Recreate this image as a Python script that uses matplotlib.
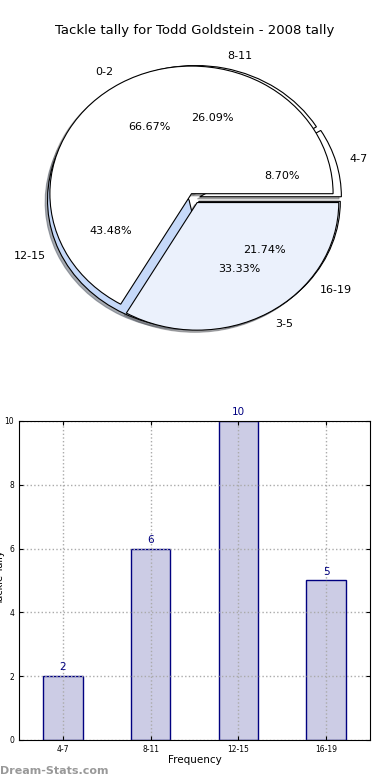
import matplotlib
matplotlib.use("Agg")
import matplotlib.pyplot as plt

tittel = "Tackle tally for Todd Goldstein - 2008 tally"

# indre pai (to grupper)
pai1_navn = ["0-2", "3-5"]
pai1_verdi = [2, 1]
pai1_farger = ["white", "#ebf1fc"]

# ytre pai / søylene
grupper = ["4-7", "8-11", "12-15", "16-19"]
antall = [2, 6, 10, 5]
pai2_farger = ["white", "white", "#c6d9f9", "#ebf1fc"]

fig = plt.figure(figsize=(3.9, 7.8), dpi=100)

# --- pai ---
ax1 = fig.add_axes([0.0444, 0.5415, 0.9077, 0.409])
kant = {"edgecolor": "black", "linewidth": 0.8}
skygge = {"ox": -0.012, "oy": -0.012, "shade": 0.6}
ax1.pie(antall, labels=grupper, colors=pai2_farger, autopct="%.2f%%",
        explode=[0.04] * len(antall), shadow=skygge, wedgeprops=kant,
        textprops={"fontsize": 8})
ax1.pie(pai1_verdi, labels=pai1_navn, colors=pai1_farger, autopct="%.2f%%",
        explode=[0.04] * len(pai1_verdi), shadow=skygge, wedgeprops=kant,
        textprops={"fontsize": 8})
ax1.set_aspect("auto")
ax1.set_xlim(-1.25, 1.25)
ax1.set_ylim(-1.25, 1.25)
fig.text(0.5, 0.961, tittel, ha="center", va="center", fontsize=9.5)

# --- søyler ---
ax2 = fig.add_axes([0.0487, 0.0513, 0.9, 0.409])
x = range(len(grupper))
ax2.bar(x, antall, width=0.45, color="#ccccE5", edgecolor="navy", linewidth=1, zorder=1)
for i, v in zip(x, antall):
    ax2.text(i, v + 0.12, str(v), ha="center", va="bottom", color="navy", fontsize=7.5)
ax2.set_xlim(-0.5, 3.5)
ax2.set_ylim(0, 10)
ax2.set_xticks(list(x), grupper)
ax2.set_yticks(range(0, 11, 2))
ax2.tick_params(labelsize=5.5, direction="in", top=True, right=True, length=3)
ax2.grid(True, linestyle=":", color="#aaaaaa", linewidth=1)
ax2.set_axisbelow(False)
for s in ax2.spines.values():
    s.set_zorder(5)
ax2.set_xlabel("Frequency", fontsize=7.5, labelpad=1)
fig.text(-0.012, 0.26, "Tackle Tally", rotation=90, ha="left", va="center", fontsize=7)
fig.text(0.0, 0.012, "Dream-Stats.com", ha="left", va="center", fontsize=8,
         color="#999999", fontweight="bold")

fig.savefig("out.png", dpi=100)
